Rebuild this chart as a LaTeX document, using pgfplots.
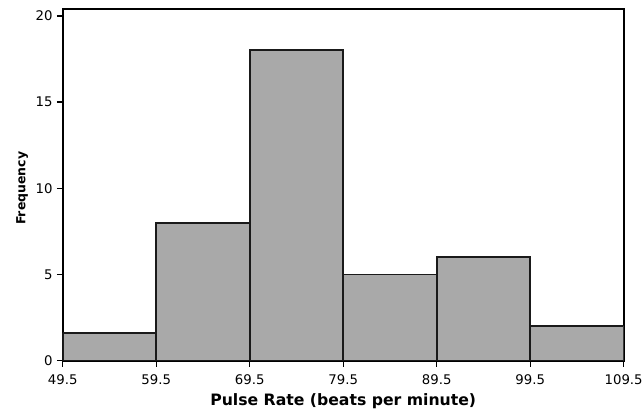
\documentclass[border=0pt]{standalone}
\usepackage{pgfplots}
\pgfplotsset{compat=1.18}
\usepackage{fontspec}
\setmainfont{DejaVu Sans}
\definecolor{barfill}{HTML}{A9A9A9}
\definecolor{edge}{HTML}{1A1A1A}
\begin{document}
\begin{tikzpicture}
\begin{axis}[
  scale only axis,
  width=422.25pt, height=264.75pt,
  xmin=49.5, xmax=109.5,
  ymin=0, ymax=20.4,
  xtick={49.5,59.5,69.5,79.5,89.5,99.5,109.5},
  xticklabels={49.5,59.5,69.5,79.5,89.5,99.5,109.5},
  ytick={0,5,10,15,20},
  tick align=outside,
  tick pos=left,
  major tick length=4.5pt,
  tick style={black, line width=1pt},
  axis line style={line width=1.4pt},
  /pgf/number format/assume math mode=true,
  ticklabel style={font=\fontsize{10}{11}\selectfont},
  xticklabel style={inner sep=1pt, yshift=-5pt},
  yticklabel style={inner sep=1pt, xshift=-2pt},
  xlabel={\textbf{Pulse Rate (beats per minute)}},
  ylabel={\textbf{Frequency}},
  xlabel style={font=\fontsize{11.8}{13}\selectfont, at={(axis description cs:0.5,0)}, anchor=north, inner sep=0pt, yshift=-24.5pt},
  ylabel style={font=\fontsize{9.4}{11}\selectfont, at={(axis description cs:0,0.49)}, anchor=south, inner sep=0pt, yshift=26pt},
]
\addplot[ybar interval, fill=barfill, draw=edge, line width=1.4pt]
  coordinates {(49.5,1.6) (59.5,8) (69.5,18) (79.5,5) (89.5,6) (99.5,2) (109.5,2)};
\end{axis}
\path (current axis.south west) ++(-47.25pt,-39.75pt) coordinate (bbll);
\path (current axis.north east) ++(13.5pt,6.75pt) coordinate (bbur);
\path (bbll) rectangle (bbur);
\end{tikzpicture}
\end{document}
